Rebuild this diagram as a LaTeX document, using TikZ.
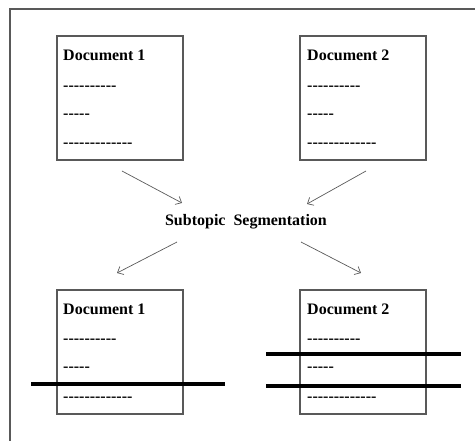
\documentclass[tikz,border=0pt]{standalone}
\usepackage{fontspec}
\setmainfont{Liberation Serif}[Ligatures=TeXOff]
\usetikzlibrary{arrows.meta}

\begin{document}
\begin{tikzpicture}[x=1pt, y=-1pt,
    docbox/.style={draw=black!65, line width=1.1pt, minimum width=126pt, minimum height=124pt, inner sep=0pt},
    doctitle/.style={anchor=base west, inner sep=0pt, font=\fontsize{16}{16}\selectfont\bfseries},
    docline/.style={anchor=base west, inner sep=0pt, font=\fontsize{16}{16}\selectfont\bfseries},
    flow/.style={draw=black!65, line width=0.7pt, -{Straight Barb[length=5pt,width=9pt]}},
    cut/.style={line width=4pt}]

    \useasboundingbox (0,0) rectangle (475,441);

    % Frame
    \draw[black!65, line width=1.1pt] (10,441) -- (10,9) -- (475,9);

    % Input documents
    \node[docbox] (inA) at (120,98) {};
    \node[doctitle] (inAt) at (63,61) {Document 1};
    \node[docline] (inA1) at (63,91) {----------};
    \node[docline] (inA2) at (63,119) {-----};
    \node[docline] (inA3) at (63,148) {-------------};

    \node[docbox] (inB) at (363,98) {};
    \node[doctitle] (inBt) at (307,61) {Document 2};
    \node[docline] (inB1) at (307,91) {----------};
    \node[docline] (inB2) at (307,119) {-----};
    \node[docline] (inB3) at (307,148) {-------------};

    % Segmentation step
    \node[font=\fontsize{16}{16}\selectfont\bfseries, inner sep=0pt] (seg) at (246,222) {Subtopic\ \ Segmentation};

    \coordinate (inAout) at (122,171);
    \coordinate (inBout) at (366,171);
    \coordinate (segA) at (182,203);
    \coordinate (segB) at (307,204);
    \coordinate (segC) at (177,242);
    \coordinate (segD) at (301,242);
    \coordinate (outAin) at (117,273);
    \coordinate (outBin) at (361,273);

    \draw[flow] (inAout) -- (segA);
    \draw[flow] (inBout) -- (segB);
    \draw[flow] (segC) -- (outAin);
    \draw[flow] (segD) -- (outBin);

    % Segmented documents
    \node[docbox] (outA) at (120,352) {};
    \node[doctitle] (outAt) at (63,315) {Document 1};
    \node[docline] (outA1) at (63,344) {----------};
    \node[docline] (outA2) at (63,372) {-----};
    \node[docline] (outA3) at (63,402) {-------------};

    \node[docbox] (outB) at (363,352) {};
    \node[doctitle] (outBt) at (307,315) {Document 2};
    \node[docline] (outB1) at (307,344) {----------};
    \node[docline] (outB2) at (307,372) {-----};
    \node[docline] (outB3) at (307,402) {-------------};

    % Boundaries
    \draw[cut] (31,384) -- (225,384);
    \draw[cut] (266,354) -- (461,354);
    \draw[cut] (266,386) -- (461,386);

\end{tikzpicture}
\end{document}
